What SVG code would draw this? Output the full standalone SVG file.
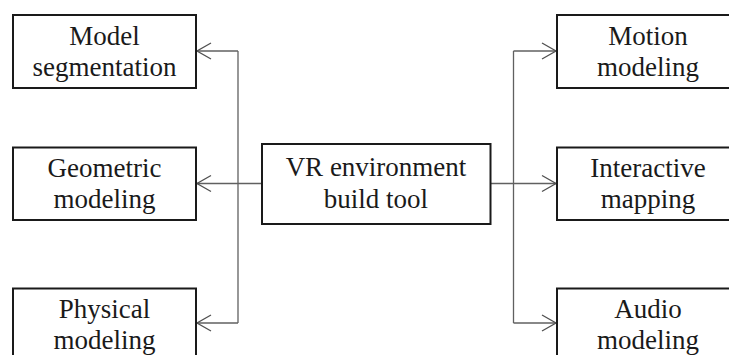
<svg xmlns="http://www.w3.org/2000/svg" width="729" height="355" viewBox="0 0 729 355">
<style>
.box{fill:#fff;stroke:#1a1a1a;stroke-width:2}
.lbl{font-family:"Liberation Serif","Times New Roman",serif;font-size:27px;fill:#1a1a1a;text-anchor:middle}
.con{fill:none;stroke:#606060;stroke-width:1.3}
</style>
<defs>
<marker id="arr" markerUnits="userSpaceOnUse" viewBox="-16 -10 18 20" refX="0" refY="0" markerWidth="18" markerHeight="20" orient="auto">
<path d="M-14,-8 L0,0 L-14,8" fill="none" stroke="#505050" stroke-width="1.3"/>
</marker>
</defs>
<rect width="729" height="355" fill="#fff"/>
<g id="connectors">
<path class="con" d="M238,51 V323"/>
<path class="con" d="M238,51 H197" marker-end="url(#arr)"/>
<path class="con" d="M262,183.5 H197" marker-end="url(#arr)"/>
<path class="con" d="M238,323 H197" marker-end="url(#arr)"/>
<path class="con" d="M513.5,51 V323"/>
<path class="con" d="M490,183.5 H556" marker-end="url(#arr)"/>
<path class="con" d="M513.5,51 H556" marker-end="url(#arr)"/>
<path class="con" d="M513.5,323 H556" marker-end="url(#arr)"/>
</g>
<g id="model-segmentation">
<rect class="box" x="13" y="15" width="183" height="73"/>
<text class="lbl" x="104.5" y="45">Model</text>
<text class="lbl" x="104.5" y="76">segmentation</text>
</g>
<g id="geometric-modeling">
<rect class="box" x="13" y="147.5" width="183" height="72.5"/>
<text class="lbl" x="104.5" y="177">Geometric</text>
<text class="lbl" x="104.5" y="207.5">modeling</text>
</g>
<g id="physical-modeling">
<rect class="box" x="13" y="288.5" width="183" height="80"/>
<text class="lbl" x="104.5" y="318">Physical</text>
<text class="lbl" x="104.5" y="349">modeling</text>
</g>
<g id="vr-tool">
<rect class="box" x="262" y="144" width="228.5" height="80"/>
<text class="lbl" x="376" y="176">VR environment</text>
<text class="lbl" x="376" y="208">build tool</text>
</g>
<g id="motion-modeling">
<rect class="box" x="557" y="15" width="183" height="73"/>
<text class="lbl" x="648" y="45">Motion</text>
<text class="lbl" x="648" y="76">modeling</text>
</g>
<g id="interactive-mapping">
<rect class="box" x="557" y="147.5" width="183" height="72.5"/>
<text class="lbl" x="648" y="177">Interactive</text>
<text class="lbl" x="648" y="207.5">mapping</text>
</g>
<g id="audio-modeling">
<rect class="box" x="557" y="288.5" width="183" height="80"/>
<text class="lbl" x="648" y="318">Audio</text>
<text class="lbl" x="648" y="349">modeling</text>
</g>
</svg>
